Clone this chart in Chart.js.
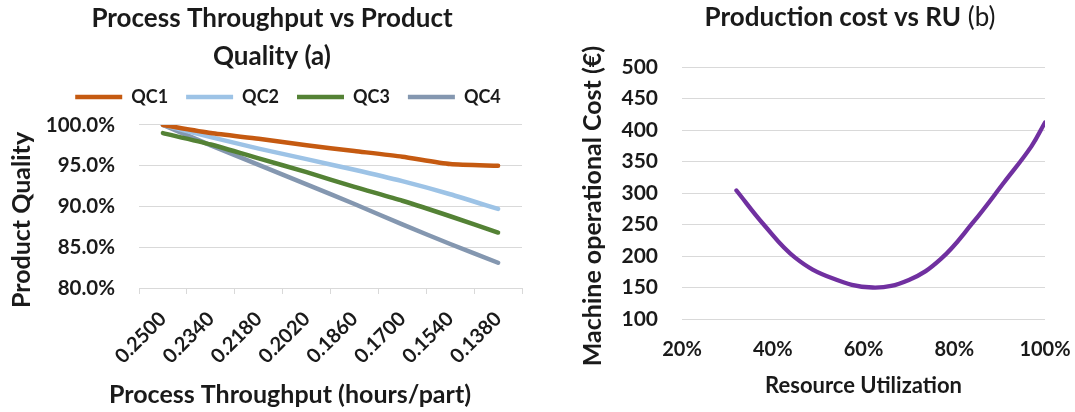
<!DOCTYPE html>
<html><head><meta charset="utf-8">
<script src="https://cdn.jsdelivr.net/npm/chart.js@4"></script>
<style>
html,body{margin:0;padding:0;background:#fff;}
#wrap{position:relative;width:1075px;height:412px;overflow:hidden;}
#c1{position:absolute;left:0;top:0;}
#c2{position:absolute;left:540px;top:0;}
</style></head><body>
<div id="wrap"><canvas id="c1" width="540" height="412"></canvas><canvas id="c2" width="535" height="412"></canvas></div>
<script>
// ---- Data: chart (a) ----
const throughputLabels = ['0.2500','0.2340','0.2180','0.2020','0.1860','0.1700','0.1540','0.1380'];
const qc1 = [100.0, 99.0, 98.3, 97.5, 96.8, 96.1, 95.2, 95.0];
const qc2 = [100.0, 98.5, 97.1, 95.8, 94.5, 93.1, 91.5, 89.7];
const qc3 = [99.0, 97.6, 95.9, 94.2, 92.4, 90.7, 88.8, 86.8];
const qc4 = [100.0, 97.5, 95.1, 92.7, 90.3, 87.8, 85.4, 83.1];
const seriesNames = ['QC1','QC2','QC3','QC4'];
const qualityTicks = [80, 85, 90, 95, 100];

// ---- Data: chart (b) ----
const ruValues   = [32, 38, 45, 53, 62, 70, 77, 84, 91, 97, 100];
const costValues = [304, 250, 197, 165, 150, 162, 195, 252, 317, 374, 412];
const costTicks = [100, 500, 50];   // min, max, step
const ruTicks = [20, 100, 20];      // min, max, step

const TEXT = '#1a1a1a';
const GRID = '#D9D9D9';
Chart.defaults.font.family = 'Lato';
Chart.defaults.color = TEXT;

function makeTextPlugin(items) {
  return {
    id: 'extraText',
    afterDraw(chart) {
      const ctx = chart.ctx;
      items.forEach(it => {
        ctx.save();
        ctx.translate(it.x, it.y);
        if (it.rotation) ctx.rotate(it.rotation * Math.PI / 180);
        ctx.fillStyle = TEXT;
        ctx.textBaseline = 'middle';
        ctx.textAlign = 'left';
        const runs = it.runs.map(r => ({text: r.text, font: (r.weight || 'bold') + ' ' + r.size + 'px Lato'}));
        let total = 0;
        runs.forEach(r => { ctx.font = r.font; r.w = ctx.measureText(r.text).width; total += r.w; });
        let x = -total / 2;
        runs.forEach(r => { ctx.font = r.font; ctx.fillText(r.text, x, 0); x += r.w; });
        ctx.restore();
      });
    }
  };
}

function makeBoxShift(cfg) {
  return {
    id: 'boxShift',
    beforeLayout(chart) {
      [['legend', chart.legend], ['title', chart.titleBlock]].forEach(([key, box]) => {
        const c = cfg[key];
        if (!box || !c || box.$shifted) return;
        box.$shifted = true;
        if (c.extra && typeof box.fit === 'function') {
          const fit = box.fit.bind(box);
          box.fit = function () { fit(); this.height += c.extra; };
        }
        if (typeof box.draw === 'function') {
          const draw = box.draw.bind(box);
          box.draw = function (a) { const g = this.ctx; g.save(); g.translate(c.dx || 0, c.dy || 0); draw(a); g.restore(); };
        }
      });
    }
  };
}

// ---- Chart (a) ----
const qColors = ['#C55A11', '#9DC3E6', '#548235', '#8497B0'];
const qData = [qc1, qc2, qc3, qc4];
new Chart(document.getElementById('c1'), {
  type: 'line',
  data: {
    labels: throughputLabels,
    datasets: seriesNames.map((n, i) => ({
      label: n, data: qData[i], borderColor: qColors[i], backgroundColor: qColors[i],
      borderWidth: 4.5, pointRadius: 0, tension: 0.2, borderCapStyle: 'round'
    }))
  },
  options: {
    responsive: false, animation: false,
    layout: {padding: {top: 0, left: 0, right: 18, bottom: 0}},
    plugins: {
      title: {display: true, text: ['Process Throughput vs Product', 'Quality (a)'],
        font: {size: 26, weight: 'bold', lineHeight: 1.46}, color: TEXT, padding: {top: 0, bottom: 0}},
      legend: {display: true, position: 'top',
        labels: {usePointStyle: true, pointStyle: 'line', pointStyleWidth: 47, boxWidth: 47,
          font: {size: 18, weight: 'bold'}, color: TEXT, padding: 18}},
      tooltip: {enabled: false}
    },
    scales: {
      x: {
        type: 'category', offset: true,
        grid: {offset: true, drawOnChartArea: false, drawTicks: true, tickLength: 6, color: GRID},
        border: {display: true, color: GRID},
        ticks: {font: {size: 20, weight: 'bold'}, minRotation: 45, maxRotation: 45, padding: 13, autoSkip: false},
        afterFit(s) { s.height = 124; }
      },
      y: {
        min: qualityTicks[0], max: qualityTicks[qualityTicks.length - 1],
        ticks: {stepSize: qualityTicks[1] - qualityTicks[0], font: {size: 20.5, weight: 'bold'}, padding: 24,
          callback: v => v.toFixed(1) + '%'},
        grid: {color: GRID, drawTicks: false},
        border: {display: false},
        afterFit(s) { s.width = 139; }
      }
    }
  },
  plugins: [
    makeBoxShift({legend: {dx: 27, dy: -6, extra: 3}, title: {dx: 11}}),
    makeTextPlugin([
      {x: 22, y: 220, rotation: -90, runs: [{text: 'Product Quality', size: 25}]},
      {x: 290, y: 395, runs: [{text: 'Process Throughput (hours/part)', size: 25}]}
    ])
  ]
});

// ---- Chart (b) ----
new Chart(document.getElementById('c2'), {
  type: 'line',
  data: {
    datasets: [{
      label: 'Machine operational Cost',
      data: ruValues.map((x, i) => ({x: x, y: costValues[i]})),
      borderColor: '#7030A0', backgroundColor: '#7030A0',
      borderWidth: 4.3, pointRadius: 0, tension: 0.4, borderCapStyle: 'round'
    }]
  },
  options: {
    responsive: false, animation: false,
    layout: {padding: {top: 67, left: 0, right: 30, bottom: 0}},
    plugins: {legend: {display: false}, title: {display: false}, tooltip: {enabled: false}},
    scales: {
      x: {
        type: 'linear', min: ruTicks[0], max: ruTicks[1],
        ticks: {stepSize: ruTicks[2], font: {size: 20, weight: 'bold'}, padding: 19, callback: v => v + '%'},
        grid: {display: false, drawTicks: false},
        border: {display: false},
        title: {display: true, text: 'Resource Utilization', font: {size: 22, weight: 'bold'}, color: TEXT,
          padding: {top: 0, bottom: 13}},
        afterFit(s) { s.height = 93; s.paddingLeft = 0; s.paddingRight = 0; }
      },
      y: {
        min: costTicks[0], max: costTicks[1],
        ticks: {stepSize: costTicks[2], font: {size: 21, weight: 'bold'}, padding: 24},
        grid: {color: GRID, drawTicks: false},
        border: {display: false},
        afterFit(s) { s.width = 142; }
      }
    }
  },
  plugins: [
    makeTextPlugin([
      {x: 310, y: 18, runs: [{text: 'Production cost vs RU', size: 26}, {text: ' (b)', size: 26, weight: 'normal'}]},
      {x: 53, y: 206, rotation: -90, runs: [{text: 'Machine operational Cost (€)', size: 25}]}
    ])
  ]
});
</script>
</body></html>
